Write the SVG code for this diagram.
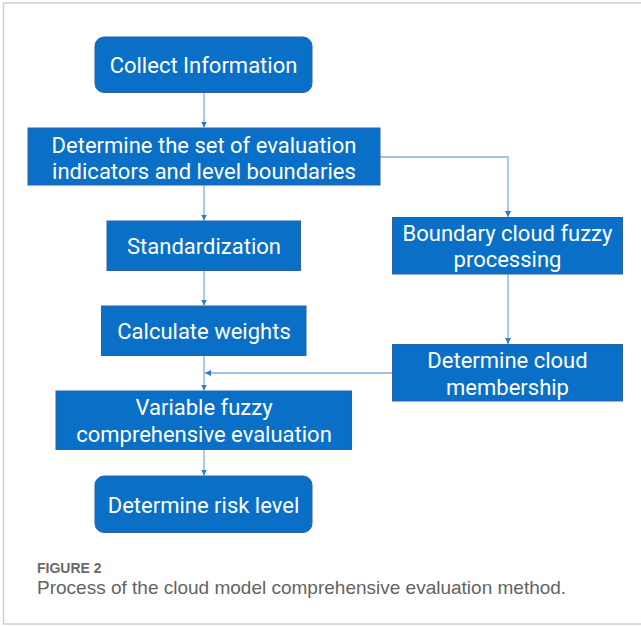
<svg xmlns="http://www.w3.org/2000/svg" width="641" height="626" viewBox="0 0 641 626">
<style>
.box{fill:#0A6FC6;stroke:#2A62A8;stroke-width:1}
.t{font-family:Roboto,"Liberation Sans",sans-serif;font-size:22px;fill:#ffffff;text-anchor:middle}
.c{fill:none;stroke:#7FAEE6;stroke-width:1.3}
.cap1{font-family:"Liberation Sans",Arial,sans-serif;font-size:14px;font-weight:bold;fill:#6a6a6a}
.cap2{font-family:"Liberation Sans",Arial,sans-serif;font-size:19px;fill:#636363}
</style>
<defs>
<marker id="ah" viewBox="0 0 10 10" refX="10" refY="5" markerWidth="6" markerHeight="6" orient="auto" markerUnits="userSpaceOnUse">
<path d="M0,0 L10,5 L0,10 Z" fill="#2F77D0"/>
</marker>
</defs>
<rect x="0" y="0" width="641" height="626" fill="#ffffff"/>
<rect x="3.5" y="3" width="645" height="621" fill="none" stroke="#cfcfcf" stroke-width="1.5"/>
<g id="connectors">
<path class="c" d="M204,92 V127.5" marker-end="url(#ah)"/>
<path class="c" d="M380,157 H508 V217" marker-end="url(#ah)"/>
<path class="c" d="M204,185 V220.5" marker-end="url(#ah)"/>
<path class="c" d="M204,270 V305.5" marker-end="url(#ah)"/>
<path class="c" d="M508,274 V344" marker-end="url(#ah)"/>
<path class="c" d="M204,355 V390.5" marker-end="url(#ah)"/>
<path class="c" d="M392.5,373 H205" marker-end="url(#ah)"/>
<path class="c" d="M204,449 V475.5" marker-end="url(#ah)"/>
</g>
<g id="n1"><rect class="box" x="95" y="37" width="217" height="55.5" rx="9"/><text class="t" x="203.5" y="73">Collect Information</text></g>
<g id="n2"><rect class="box" x="28" y="128" width="352" height="57"/><text class="t" x="204" y="152.5">Determine the set of evaluation</text><text class="t" x="204" y="179">indicators and level boundaries</text></g>
<g id="n3"><rect class="box" x="107" y="221" width="193.5" height="49.5"/><text class="t" x="204" y="254">Standardization</text></g>
<g id="n4"><rect class="box" x="101.5" y="306" width="204.5" height="49.5"/><text class="t" x="204" y="338.5">Calculate weights</text></g>
<g id="n5"><rect class="box" x="56" y="391" width="295.5" height="58.5"/><text class="t" x="204" y="415">Variable fuzzy</text><text class="t" x="204" y="441.5">comprehensive evaluation</text></g>
<g id="n6"><rect class="box" x="95" y="476" width="217" height="56.5" rx="9"/><text class="t" x="203.5" y="512.5">Determine risk level</text></g>
<g id="n7"><rect class="box" x="392.5" y="217.5" width="230" height="56.5"/><text class="t" x="507.5" y="241">Boundary cloud fuzzy</text><text class="t" x="507.5" y="266.5">processing</text></g>
<g id="n8"><rect class="box" x="392.5" y="344.5" width="230" height="56.5"/><text class="t" x="507.5" y="368">Determine cloud</text><text class="t" x="507.5" y="394.5">membership</text></g>
<text class="cap1" x="37" y="573">FIGURE 2</text>
<text class="cap2" x="37" y="594">Process of the cloud model comprehensive evaluation method.</text>
</svg>
